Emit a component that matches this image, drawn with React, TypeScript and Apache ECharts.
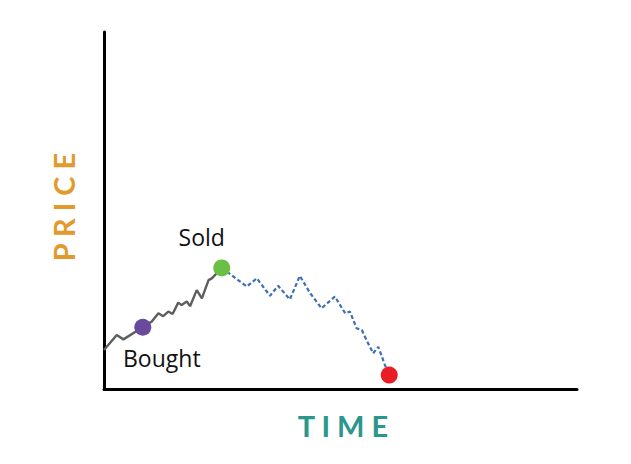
import React, { useEffect, useRef } from "react";
import * as echarts from "echarts";

const boughtLine: [number, number][] = [
  [0, 10.9], [2.7, 15.1], [4.1, 13.9], [8.2, 17.3], [10.1, 18.9], [11.5, 21.2],
  [12.5, 20.4], [13.6, 21.7], [14.5, 21.0], [15.7, 24.2], [16.4, 23.5], [17.5, 24.5],
  [18.2, 23.2], [19.6, 27.7], [20.7, 25.4], [22.1, 30.5], [22.8, 31.0], [24.9, 33.9],
];
const soldLine: [number, number][] = [
  [24.9, 33.9], [30.2, 28.7], [32.3, 31.0], [35.1, 26.1], [36.8, 28.9], [39.3, 25.1],
  [41.4, 31.7], [43.6, 26.8], [46.0, 22.6], [48.8, 25.9], [51.0, 21.2], [52.0, 21.7],
  [53.4, 17.0], [54.5, 16.5], [55.5, 13.7], [56.9, 10.0], [58.0, 11.8], [59.4, 6.7],
  [60.3, 3.9],
];
const boughtPoint: [number, number] = [8.2, 17.3];
const soldPoint: [number, number] = [24.9, 33.9];
const endPoint: [number, number] = [60.3, 3.9];

const FONT = "Lato, 'Open Sans', sans-serif";
const LABEL_FONT = "'Open Sans', Lato, sans-serif";

export default function App() {
  const ref = useRef<HTMLDivElement>(null);
  useEffect(() => {
    if (!ref.current) return;
    const chart = echarts.init(ref.current, undefined, { renderer: "svg" });
    chart.setOption({
      animation: false,
      backgroundColor: "#ffffff",
      grid: { left: 104, right: 54, top: 32, bottom: 75 },
      xAxis: {
        type: "value", min: 0, max: 100,
        axisLine: { show: true, onZero: false, lineStyle: { color: "#000", width: 3 } },
        axisTick: { show: false }, axisLabel: { show: false }, splitLine: { show: false },
      },
      yAxis: {
        type: "value", min: 0, max: 100,
        axisLine: { show: true, onZero: false, lineStyle: { color: "#000", width: 3 } },
        axisTick: { show: false }, axisLabel: { show: false }, splitLine: { show: false },
      },
      series: [
        {
          type: "line", data: boughtLine, showSymbol: false, smooth: false,
          lineStyle: { color: "#5e5e5e", width: 2.4 }, z: 2,
        },
        {
          type: "line", data: soldLine, showSymbol: false, smooth: false,
          lineStyle: { color: "#3e6eb4", width: 2.2, type: [4, 2.5] }, z: 2,
        },
        {
          type: "scatter", symbolSize: 17, z: 5,
          itemStyle: { opacity: 1 },
          data: [
            {
              value: boughtPoint, itemStyle: { color: "#6a4a9e", opacity: 1 },
              label: { show: true, formatter: "Bought", position: "bottom", offset: [19, 6],
                fontFamily: LABEL_FONT, fontSize: 23, color: "#111" },
            },
            {
              value: soldPoint, itemStyle: { color: "#6cbf45", opacity: 1 },
              label: { show: true, formatter: "Sold", position: "top", offset: [-20, -6],
                fontFamily: LABEL_FONT, fontSize: 23, color: "#111" },
            },
            { value: endPoint, itemStyle: { color: "#e81d25", opacity: 1 } },
          ],
        },
      ],
      graphic: [
        {
          type: "text", x: 63, y: 207,
          rotation: Math.PI / 2,
          style: {
            text: "P R I C E", fontFamily: FONT, fontSize: 29, fontWeight: "bold",
            fill: "#e39a2d", align: "center", verticalAlign: "middle",
          },
        },
        {
          type: "text", x: 343, y: 425,
          style: {
            text: "T I M E", fontFamily: FONT, fontSize: 29, fontWeight: "bold",
            fill: "#2b968c", align: "center", verticalAlign: "middle",
          },
        },
      ],
    });
    return () => chart.dispose();
  }, []);
  return <div ref={ref} style={{ width: 631, height: 464, position: "absolute", left: 0, top: 0 }} />;
}
